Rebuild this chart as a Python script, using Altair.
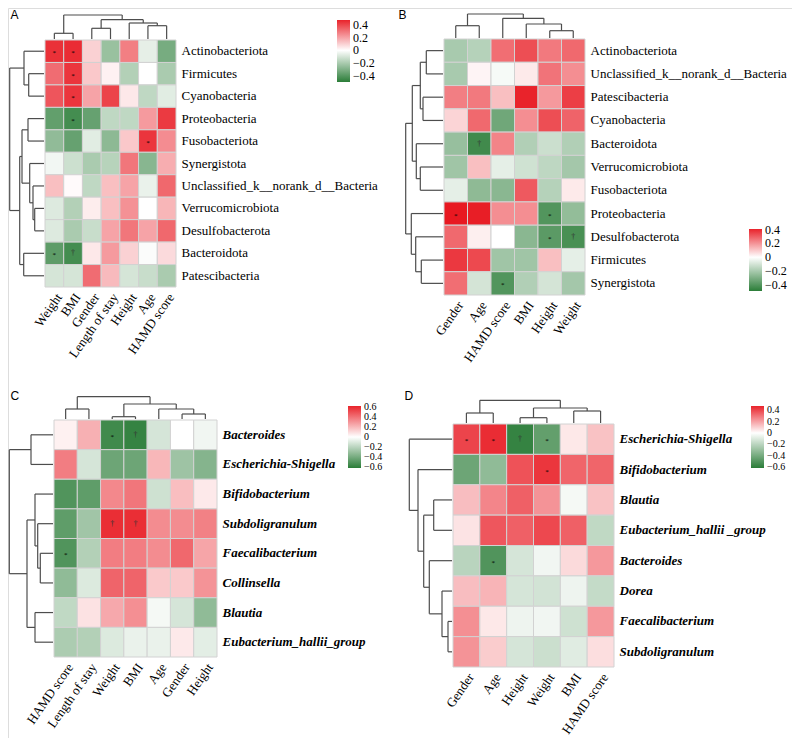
import altair as alt
import pandas as pd

SERIF = "Liberation Serif"
SANS = "Liberation Sans"
GREEN = "#2B7D38"
WHITE = "#FFFFFF"
RED = "#E9232B"
LINE = "#4d4d4d"
CANVAS_W, CANVAS_H = 784, 730

# ---------------- Panel A ----------------
A_cols = ["Weight", "BMI", "Gender", "Length of stay", "Height", "Age", "HAMD score"]
A_rows = ["Actinobacteriota", "Firmicutes", "Cyanobacteria", "Proteobacteria",
          "Fusobacteriota", "Synergistota", "Unclassified_k__norank_d__Bacteria",
          "Verrucomicrobiota", "Desulfobacterota", "Bacteroidota", "Patescibacteria"]
A_vals = [
    [0.45, 0.46, 0.10, -0.24, 0.28, -0.06, -0.32],
    [0.32, 0.44, 0.12, 0.03, -0.18, 0.00, -0.20],
    [0.37, 0.44, 0.20, 0.41, 0.05, -0.15, -0.07],
    [-0.37, -0.44, -0.36, -0.15, -0.15, 0.22, 0.43],
    [-0.26, -0.36, -0.07, -0.27, 0.12, 0.44, 0.25],
    [-0.03, -0.12, -0.20, -0.17, 0.30, -0.28, 0.18],
    [0.14, 0.01, -0.15, 0.14, 0.20, -0.05, 0.33],
    [-0.08, -0.18, 0.04, 0.14, 0.24, 0.00, 0.16],
    [-0.08, -0.20, -0.13, 0.20, 0.30, 0.20, 0.33],
    [-0.38, -0.44, 0.05, 0.22, 0.10, -0.01, 0.08],
    [-0.10, -0.10, 0.32, 0.15, -0.10, -0.13, -0.20],
]
A_sig = [("Actinobacteriota", "Weight", "*"), ("Actinobacteriota", "BMI", "*"),
         ("Firmicutes", "BMI", "*"), ("Cyanobacteria", "BMI", "*"),
         ("Proteobacteria", "BMI", "*"), ("Fusobacteriota", "Age", "*"),
         ("Bacteroidota", "Weight", "*"), ("Bacteroidota", "BMI", "†")]
A_top = (("Weight", "BMI", 5.7),
         (("Gender", "Length of stay", 10.7), ("Height", ("Age", "HAMD score", 13.3), 16), 19.3), 24)
A_left = (("Actinobacteriota", ("Firmicutes", "Cyanobacteria", 15.3), 20),
          ((("Proteobacteria", "Fusobacteriota", 16),
            ("Synergistota", ("Unclassified_k__norank_d__Bacteria",
                              ("Verrucomicrobiota", "Desulfobacterota", 9.3), 11), 14.3), 22),
           ("Bacteroidota", "Patescibacteria", 20.3), 24.3), 34.3)
A_ticks = [0.4, 0.2, 0, -0.2, -0.4]
A_dom = [-0.5, 0.48]

# ---------------- Panel B ----------------
B_cols = ["Gender", "Age", "HAMD score", "BMI", "Height", "Weight"]
B_rows = ["Actinobacteriota", "Unclassified_k__norank_d__Bacteria", "Patescibacteria",
          "Cyanobacteria", "Bacteroidota", "Verrucomicrobiota", "Fusobacteriota",
          "Proteobacteria", "Desulfobacterota", "Firmicutes", "Synergistota"]
B_vals = [
    [-0.20, -0.17, 0.27, 0.33, 0.25, 0.28],
    [-0.20, 0.02, -0.02, 0.04, 0.26, 0.21],
    [0.24, 0.25, 0.12, 0.41, 0.19, 0.36],
    [0.08, 0.28, -0.33, 0.21, 0.33, 0.29],
    [-0.24, -0.44, 0.23, -0.18, -0.12, -0.18],
    [-0.22, 0.12, -0.06, -0.11, -0.15, -0.21],
    [-0.06, -0.26, -0.27, 0.31, -0.17, 0.04],
    [0.43, 0.42, 0.21, 0.21, -0.40, -0.25],
    [0.28, 0.03, 0.00, -0.27, -0.38, -0.42],
    [0.37, 0.34, -0.22, -0.22, 0.12, -0.06],
    [0.27, -0.10, -0.40, -0.18, -0.10, -0.21],
]
B_sig = [("Bacteroidota", "Age", "†"), ("Proteobacteria", "Gender", "*"),
         ("Proteobacteria", "Height", "*"), ("Desulfobacterota", "Height", "*"),
         ("Desulfobacterota", "Weight", "†"), ("Synergistota", "HAMD score", "*")]
B_top = (("Gender", "Age", 12.3),
         ("HAMD score", ("BMI", ("Height", "Weight", 7.3), 14), 19.7), 24)
B_left = (((("Actinobacteriota", "Unclassified_k__norank_d__Bacteria", 16.7),
            ("Patescibacteria", "Cyanobacteria", 20), 22.7),
           ("Bacteroidota", ("Verrucomicrobiota", "Fusobacteriota", 22.7), 26.7), 30.7),
          ("Proteobacteria", ("Desulfobacterota", ("Firmicutes", "Synergistota", 21.7), 27.3), 31.7),
          37.3)
B_ticks = [0.4, 0.2, 0, -0.2, -0.4]
B_dom = [-0.49, 0.41]

# ---------------- Panel C ----------------
C_cols = ["HAMD score", "Length of stay", "Weight", "BMI", "Age", "Gender", "Height"]
C_rows = ["Bacteroides", "Escherichia-Shigella", "Bifidobacterium", "Subdoligranulum",
          "Faecalibacterium", "Collinsella", "Blautia", "Eubacterium_hallii_group"]
C_vals = [
    [0.04, 0.22, -0.55, -0.58, -0.12, 0.00, -0.04],
    [0.36, -0.12, -0.42, -0.42, 0.20, -0.28, -0.35],
    [-0.50, -0.46, 0.33, 0.38, -0.14, 0.18, 0.06],
    [-0.46, -0.27, 0.58, 0.58, 0.32, 0.32, 0.35],
    [-0.50, -0.22, 0.36, 0.36, 0.32, 0.42, 0.25],
    [-0.32, -0.10, 0.43, 0.43, 0.15, 0.15, 0.30],
    [-0.18, 0.08, 0.24, 0.31, -0.03, -0.12, -0.32],
    [-0.24, -0.22, -0.10, -0.06, -0.06, 0.06, -0.08],
]
C_sig = [("Bacteroides", "Weight", "*"), ("Bacteroides", "BMI", "†"),
         ("Subdoligranulum", "Weight", "†"), ("Subdoligranulum", "BMI", "†"),
         ("Faecalibacterium", "HAMD score", "*")]
C_top = (("HAMD score", "Length of stay", 10),
         (("Weight", "BMI", 2.3), ("Age", ("Gender", "Height", 5), 10), 15), 22.3)
C_left = (("Bacteroides", "Escherichia-Shigella", 22),
          (("Bifidobacterium", ("Subdoligranulum", ("Faecalibacterium", "Collinsella", 12.7), 15.3), 18),
           ("Blautia", "Eubacterium_hallii_group", 18), 26), 43.7)
C_ticks = [0.6, 0.4, 0.2, 0, -0.2, -0.4, -0.6]
C_dom = [-0.61, 0.61]

# ---------------- Panel D ----------------
D_cols = ["Gender", "Age", "Height", "Weight", "BMI", "HAMD score"]
D_rows = ["Escherichia-Shigella", "Bifidobacterium", "Blautia", "Eubacterium_hallii _group",
          "Bacteroides", "Dorea", "Faecalibacterium", "Subdoligranulum"]
D_vals = [
    [0.40, 0.45, -0.58, -0.45, 0.05, 0.13],
    [-0.42, -0.32, 0.37, 0.43, 0.33, 0.33],
    [0.14, 0.26, 0.34, 0.23, -0.03, 0.13],
    [0.06, 0.36, 0.34, 0.39, 0.34, -0.18],
    [-0.20, -0.50, -0.12, -0.04, 0.08, 0.22],
    [0.14, 0.16, -0.12, -0.13, -0.05, -0.17],
    [0.24, 0.05, -0.05, -0.04, -0.14, 0.22],
    [0.23, 0.11, -0.12, -0.15, -0.09, 0.07],
]
D_sig = [("Escherichia-Shigella", "Gender", "*"), ("Escherichia-Shigella", "Age", "*"),
         ("Escherichia-Shigella", "Height", "†"), ("Escherichia-Shigella", "Weight", "*"),
         ("Bifidobacterium", "Weight", "*"), ("Bacteroides", "Age", "*")]
D_top = (("Gender", "Age", 10),
         (("Height", "Weight", 5.3), ("BMI", "HAMD score", 12), 15), 22.7)
D_left = ("Escherichia-Shigella",
          ("Bifidobacterium",
           (("Blautia", "Eubacterium_hallii _group", 18.3),
            ("Bacteroides", ("Dorea", ("Faecalibacterium", "Subdoligranulum", 4), 10), 22.7), 28.3),
           34), 42.7)
D_ticks = [0.4, 0.2, 0, -0.2, -0.4, -0.6]
D_dom = [-0.61, 0.47]


def dendro_segments(tree, leaves):
    idx = {name: i for i, name in enumerate(leaves)}
    segs = []

    def walk(node):
        if isinstance(node, str):
            return float(idx[node]), 0.0
        left, right, h = node
        pl, hl = walk(left)
        pr, hr = walk(right)
        segs.append((pl, hl, pl, h))
        segs.append((pr, hr, pr, h))
        segs.append((pl, h, pr, h))
        return (pl + pr) / 2.0, h

    walk(tree)
    return pd.DataFrame(segs, columns=["p", "h", "p2", "h2"])


def panel_layers(letter, cols, rows, vals, sig, top_tree, left_tree, dom, ticks,
                 box, legend_box, letter_xy, ital, leg_font):
    x0, y0, w, h = box
    x1, y1 = x0 + w, y0 + h
    sigmap = {(r, c): s for r, c, s in sig}
    recs = []
    for i, r in enumerate(rows):
        for j, c in enumerate(cols):
            recs.append({"row": r, "col": c, "v": vals[i][j], "sig": sigmap.get((r, c), "")})
    df = pd.DataFrame(recs)

    def xs():
        return alt.Scale(domain=cols, range=[x0, x1], paddingInner=0, paddingOuter=0)

    def ys():
        return alt.Scale(domain=rows, range=[y0, y1], paddingInner=0, paddingOuter=0)

    yaxis_kw = dict(orient="right", offset=x1 - CANVAS_W, ticks=False, domain=False,
                    labelPadding=5, labelFont=SERIF, labelFontSize=13, labelColor="black",
                    labelLimit=0, grid=False)
    if ital:
        yaxis_kw["labelFontStyle"] = "italic"
        yaxis_kw["labelFontWeight"] = "bold"

    lx, ly, llen = legend_box
    heat = alt.Chart(df).mark_rect(stroke="#d2d2d2", strokeWidth=1).encode(
        x=alt.X("col:N", scale=xs(), title=None,
                axis=alt.Axis(orient="bottom", offset=y1 - CANVAS_H, labelAngle=-55,
                              labelAlign="right", labelBaseline="top", ticks=False,
                              domain=False, grid=False, labelPadding=4, labelFont=SERIF,
                              labelFontSize=13, labelColor="black", labelLimit=0)),
        y=alt.Y("row:N", scale=ys(), title=None, axis=alt.Axis(**yaxis_kw)),
        color=alt.Color("v:Q",
                        scale=alt.Scale(domain=[dom[0], 0, dom[1]], range=[GREEN, WHITE, RED],
                                        interpolate="rgb"),
                        legend=alt.Legend(orient="none", legendX=lx, legendY=ly,
                                          title=None, direction="vertical",
                                          gradientLength=llen, gradientThickness=13,
                                          gradientStrokeWidth=0, labelFont=SERIF,
                                          labelFontSize=leg_font, labelColor="black",
                                          labelOffset=3, labelOverlap=False, values=ticks,
                                          format="~g", padding=0)),
    )

    star = alt.Chart(df).transform_filter(alt.datum.sig == "*").mark_text(
        fontSize=7, color="black", baseline="middle", dy=2, font=SERIF).encode(
        x=alt.X("col:N", scale=xs(), axis=None),
        y=alt.Y("row:N", scale=ys(), axis=None),
        text="sig:N")
    dagger = alt.Chart(df).transform_filter(alt.datum.sig == "†").mark_text(
        fontSize=8, color="#333333", baseline="middle", font=SERIF).encode(
        x=alt.X("col:N", scale=xs(), axis=None),
        y=alt.Y("row:N", scale=ys(), axis=None),
        text="sig:N")

    td = dendro_segments(top_tree, cols)
    tmax = float(td["h2"].max())
    tx, ty = letter_xy
    top = alt.Chart(td).mark_rule(color=LINE, strokeWidth=1.2).encode(
        x=alt.X("p:Q", scale=alt.Scale(domain=[-0.5, len(cols) - 0.5], range=[x0, x1],
                                       nice=False, zero=False),
                axis=alt.Axis(orient="top", labels=False, ticks=False, domain=False,
                              grid=False, title=letter, titleX=tx, titleY=ty, titleAngle=0,
                              titleAlign="left", titleBaseline="alphabetic", titleFont=SANS,
                              titleFontSize=12, titleFontWeight="normal", titleColor="black",
                              titlePadding=0)),
        x2=alt.X2("p2"),
        y=alt.Y("h:Q", scale=alt.Scale(domain=[0, tmax], range=[y0 - 1, y0 - 1 - tmax],
                                       nice=False, zero=False), axis=None),
        y2=alt.Y2("h2"),
    )

    ld = dendro_segments(left_tree, rows)
    lmax = float(ld["h2"].max())
    left = alt.Chart(ld).mark_rule(color=LINE, strokeWidth=1.2).encode(
        y=alt.Y("p:Q", scale=alt.Scale(domain=[-0.5, len(rows) - 0.5], range=[y0, y1],
                                       nice=False, zero=False), axis=None),
        y2=alt.Y2("p2"),
        x=alt.X("h:Q", scale=alt.Scale(domain=[0, lmax], range=[x0 - 1, x0 - 1 - lmax],
                                       nice=False, zero=False), axis=None),
        x2=alt.X2("h2"),
    )
    return [heat, star, dagger, top, left]


layers = []
layers += panel_layers("A", A_cols, A_rows, A_vals, A_sig, A_top, A_left, A_dom, A_ticks,
                       (37, 32, 131, 247), (329, 12, 62), (2, 10), False, 12)
layers += panel_layers("B", B_cols, B_rows, B_vals, B_sig, B_top, B_left, B_dom, B_ticks,
                       (436, 31, 141, 256), (741, 221, 62), (390, 10), False, 12)
layers += panel_layers("C", C_cols, C_rows, C_vals, C_sig, C_top, C_left, C_dom, C_ticks,
                       (46, 412, 163, 237), (340, 398, 62), (2, 391), True, 10)
layers += panel_layers("D", D_cols, D_rows, D_vals, D_sig, D_top, D_left, D_dom, D_ticks,
                       (445, 416, 161, 243), (743, 398, 62), (396, 391), True, 10)

chart = alt.layer(*layers).resolve_scale(
    x="independent", y="independent", color="independent"
).properties(
    width=CANVAS_W, height=CANVAS_H, padding=0,
    autosize=alt.AutoSizeParams(type="none"),
).configure_view(stroke=None).configure(background="white")

chart.save("out.html", embed_options={"renderer": "svg", "actions": False})
